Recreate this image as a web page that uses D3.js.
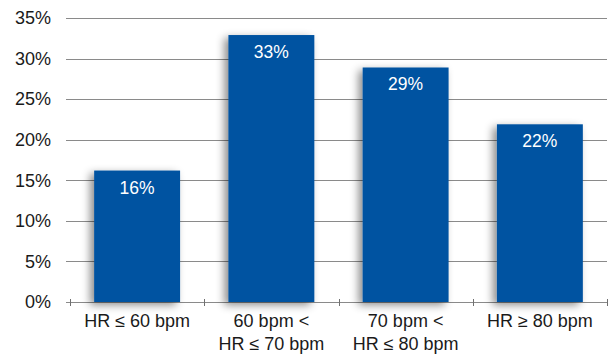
<!DOCTYPE html>
<html><head><meta charset="utf-8">
<script src="https://cdn.jsdelivr.net/npm/d3@7"></script>
<style>body{margin:0;background:#fff}svg{display:block}text{font-family:"Liberation Sans",Arial,sans-serif}</style>
</head><body>
<svg id="c" width="608" height="356"></svg>
<script>
const categories = [["HR \u2264 60 bpm"], ["60 bpm <", "HR \u2264 70 bpm"], ["70 bpm <", "HR \u2264 80 bpm"], ["HR \u2265 80 bpm"]];
const values = [16.2, 32.9, 28.9, 21.9];
const valueLabels = ["16%", "33%", "29%", "22%"];
const yTicks = [0, 5, 10, 15, 20, 25, 30, 35];

const svg = d3.select("#c");
const x0 = 70, x1 = 607, yTop = 18, yBot = 302;
const x = d3.scaleBand().domain(d3.range(categories.length)).range([x0, x1]).paddingInner(0.36).paddingOuter(0.18);
const y = d3.scaleLinear().domain([0, 35]).range([yBot, yTop]);

const defs = svg.append("defs");
const f = defs.append("filter").attr("id", "sh").attr("x", "-30%").attr("y", "-10%").attr("width", "160%").attr("height", "130%");
f.append("feDropShadow").attr("dx", -4).attr("dy", 3).attr("stdDeviation", 4).attr("flood-color", "#000").attr("flood-opacity", 0.45);

// gridlines
svg.append("g").selectAll("line").data(yTicks).join("line")
  .attr("x1", 66).attr("x2", x1).attr("y1", d => Math.round(y(d)) + 0.5).attr("y2", d => Math.round(y(d)) + 0.5)
  .attr("stroke", "#8a8a8a").attr("stroke-width", 1);

// y labels
svg.append("g").selectAll("text").data(yTicks).join("text")
  .attr("x", 51).attr("y", d => y(d)).attr("dy", "0.35em").attr("text-anchor", "end")
  .attr("font-size", 18).attr("fill", "#1a1a1a").text(d => d + "%");

// x category ticks
const bounds = d3.range(categories.length + 1).map(i => x0 + i * x.step());
svg.append("g").selectAll("line").data(bounds).join("line")
  .attr("x1", d => Math.round(d) + 0.5).attr("x2", d => Math.round(d) + 0.5)
  .attr("y1", yBot - 3).attr("y2", yBot + 4).attr("stroke", "#707070");

// bars
svg.append("g").selectAll("rect").data(values).join("rect")
  .attr("x", (d, i) => x(i)).attr("width", x.bandwidth())
  .attr("y", d => y(d)).attr("height", d => yBot - y(d))
  .attr("fill", "#0152A1").attr("filter", "url(#sh)");

// value labels
svg.append("g").selectAll("text").data(values).join("text")
  .attr("x", (d, i) => x(i) + x.bandwidth() / 2).attr("y", d => y(d) + 23)
  .attr("text-anchor", "middle").attr("font-size", 17.5).attr("fill", "#fff")
  .text((d, i) => valueLabels[i]);

// category labels
const cg = svg.append("g").selectAll("text").data(categories).join("text")
  .attr("text-anchor", "middle").attr("font-size", 18).attr("fill", "#1a1a1a");
cg.each(function(lines, i) {
  d3.select(this).selectAll("tspan").data(lines).join("tspan")
    .attr("x", x(i) + x.bandwidth() / 2).attr("y", (l, j) => 327 + j * 23).text(l => l);
});
</script>
</body></html>
